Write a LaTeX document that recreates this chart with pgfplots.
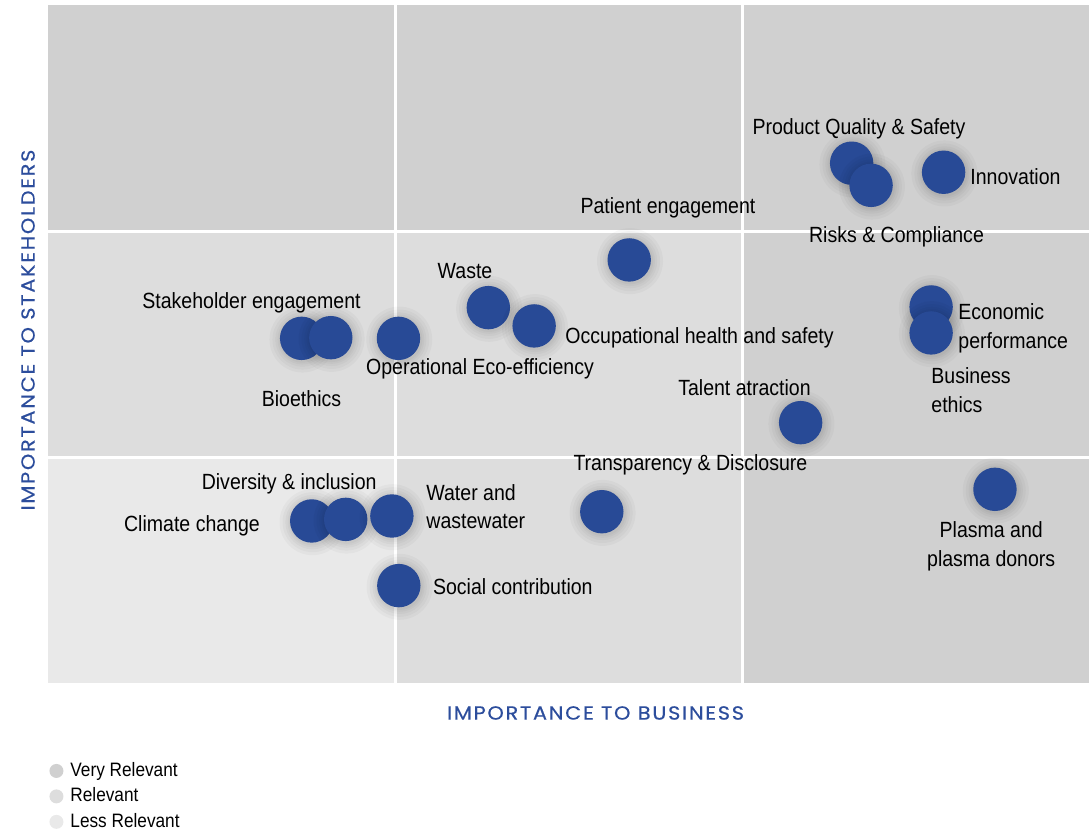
\documentclass[border=0pt]{standalone}
\usepackage{fontspec}
\setmainfont{Liberation Sans}[FakeStretch=0.888]
\newfontfamily\titlefont{Poppins}[FakeStretch=1.1, LetterSpace=9, FakeBold=0.4]
\usepackage{pgfplots}
\pgfplotsset{compat=1.18}
\definecolor{vr}{RGB}{208,208,208}
\definecolor{rl}{RGB}{221,221,221}
\definecolor{lr}{RGB}{233,233,233}
\definecolor{mblue}{RGB}{40,74,150}
\definecolor{tblue}{RGB}{44,77,156}
\pgfdeclareplotmark{sdot}{%
  \pgfsetfillcolor{black}%
  \pgfsetfillopacity{0.028}%
  \pgfpathcircle{\pgfqpoint{0.4pt}{-0.6pt}}{16.5pt}\pgfusepath{fill}%
  \pgfpathcircle{\pgfqpoint{0.4pt}{-0.6pt}}{15pt}\pgfusepath{fill}%
  \pgfpathcircle{\pgfqpoint{0.4pt}{-0.6pt}}{13.6pt}\pgfusepath{fill}%
  \pgfpathcircle{\pgfqpoint{0.4pt}{-0.6pt}}{12.5pt}\pgfusepath{fill}%
  \pgfpathcircle{\pgfqpoint{0.4pt}{-0.6pt}}{11.6pt}\pgfusepath{fill}%
  \pgfsetfillopacity{1}%
  \pgfsetfillcolor{mblue}%
  \pgfpathcircle{\pgfpointorigin}{10.85pt}\pgfusepath{fill}%
}
\pgfplotstableread{
x y
2.316 2.300
2.372 2.202
2.581 2.260
1.675 1.872
1.269 1.661
1.401 1.580
1.010 1.525
0.731 1.525
0.815 1.528
2.545 1.664
2.545 1.549
2.169 1.152
2.729 0.857
1.596 0.758
0.760 0.717
0.858 0.724
0.991 0.739
1.011 0.431
}\points
\begin{document}
\begin{tikzpicture}[lbl/.style={font=\fontsize{11}{12}\selectfont, text=black, inner sep=0pt}]
\useasboundingbox (0,0) rectangle (545.5pt,415.5pt);
\begin{axis}[
  at={(24pt,74pt)}, anchor=south west,
  width=520.5pt, height=339pt, scale only axis,
  xmin=0, xmax=3, ymin=0, ymax=3,
  axis line style={draw=none},
  xtick=\empty, ytick=\empty,
  xlabel={\titlefont IMPORTANCE TO BUSINESS},
  ylabel={\titlefont IMPORTANCE TO STAKEHOLDERS},
  label style={font=\fontsize{9.5}{11}\selectfont, text=tblue},
  xlabel style={at={(axis description cs:0.526,-0.0442)}, anchor=center},
  ylabel style={at={(axis description cs:-0.0192,0.5206)}, anchor=center, rotate=0},
  legend style={at={(axis description cs:0.001,-0.1121)}, anchor=north west,
    draw=none, fill=none, inner sep=0pt,
    font=\fontsize{9.7}{11}\selectfont, row sep=1.2pt,
    nodes={inner sep=1.5pt}},
  legend cell align=left,
]
\fill[vr] (axis cs:0,2) rectangle (axis cs:3,3);
\fill[rl] (axis cs:0,1) rectangle (axis cs:2,2);
\fill[vr] (axis cs:2,0) rectangle (axis cs:3,2);
\fill[lr] (axis cs:0,0) rectangle (axis cs:1,1);
\fill[rl] (axis cs:1,0) rectangle (axis cs:2,1);
\draw[white, line width=1.5pt] (axis cs:1,0) -- (axis cs:1,3);
\draw[white, line width=1.5pt] (axis cs:2,0) -- (axis cs:2,3);
\draw[white, line width=1.5pt] (axis cs:0,1) -- (axis cs:3,1);
\draw[white, line width=1.5pt] (axis cs:0,2) -- (axis cs:3,2);
\addplot[only marks, mark=sdot, forget plot] table[x=x, y=y] {\points};
\addlegendimage{legend image code/.code={\path[draw=none,fill=none] (0,-3.5pt) rectangle (9pt,3.5pt);\fill[vr,draw=none] (3.5pt,0pt) circle (3.5pt);}}
\addlegendentry{Very Relevant}
\addlegendimage{legend image code/.code={\path[draw=none,fill=none] (0,-3.5pt) rectangle (9pt,3.5pt);\fill[rl,draw=none] (3.5pt,0pt) circle (3.5pt);}}
\addlegendentry{Relevant}
\addlegendimage{legend image code/.code={\path[draw=none,fill=none] (0,-3.5pt) rectangle (9pt,3.5pt);\fill[lr,draw=none] (3.5pt,0pt) circle (3.5pt);}}
\addlegendentry{Less Relevant}
\end{axis}
\node[lbl, anchor=base] at (429.5pt,348pt) {Product Quality \& Safety};
\node[lbl, anchor=base west] at (485pt,323.25pt) {Innovation};
\node[lbl, anchor=base] at (448.25pt,294.25pt) {Risks \& Compliance};
\node[lbl, anchor=base] at (334pt,308.85pt) {Patient engagement};
\node[lbl, anchor=base] at (232.5pt,276.15pt) {Waste};
\node[lbl, anchor=base west] at (282.5pt,243.85pt) {Occupational health and safety};
\node[lbl, anchor=base] at (240pt,228.5pt) {Operational Eco-efficiency};
\node[lbl, anchor=base] at (125.75pt,261.35pt) {Stakeholder engagement};
\node[lbl, anchor=base] at (150.75pt,212.25pt) {Bioethics};
\node[lbl, anchor=base west] at (479pt,255.5pt) {Economic};
\node[lbl, anchor=base west] at (479pt,241pt) {performance};
\node[lbl, anchor=base west] at (465.5pt,223.75pt) {Business};
\node[lbl, anchor=base west] at (465.5pt,209.25pt) {ethics};
\node[lbl, anchor=base] at (372.25pt,218pt) {Talent atraction};
\node[lbl, anchor=base] at (345.2pt,180.5pt) {Transparency \& Disclosure};
\node[lbl, anchor=base] at (495.6pt,146.85pt) {Plasma and};
\node[lbl, anchor=base] at (495.6pt,132.15pt) {plasma donors};
\node[lbl, anchor=base] at (144.6pt,170.85pt) {Diversity \& inclusion};
\node[lbl, anchor=base] at (96pt,150pt) {Climate change};
\node[lbl, anchor=base west] at (213pt,165.5pt) {Water and};
\node[lbl, anchor=base west] at (213pt,151.35pt) {wastewater};
\node[lbl, anchor=base west] at (216.3pt,118.5pt) {Social contribution};
\end{tikzpicture}
\end{document}
